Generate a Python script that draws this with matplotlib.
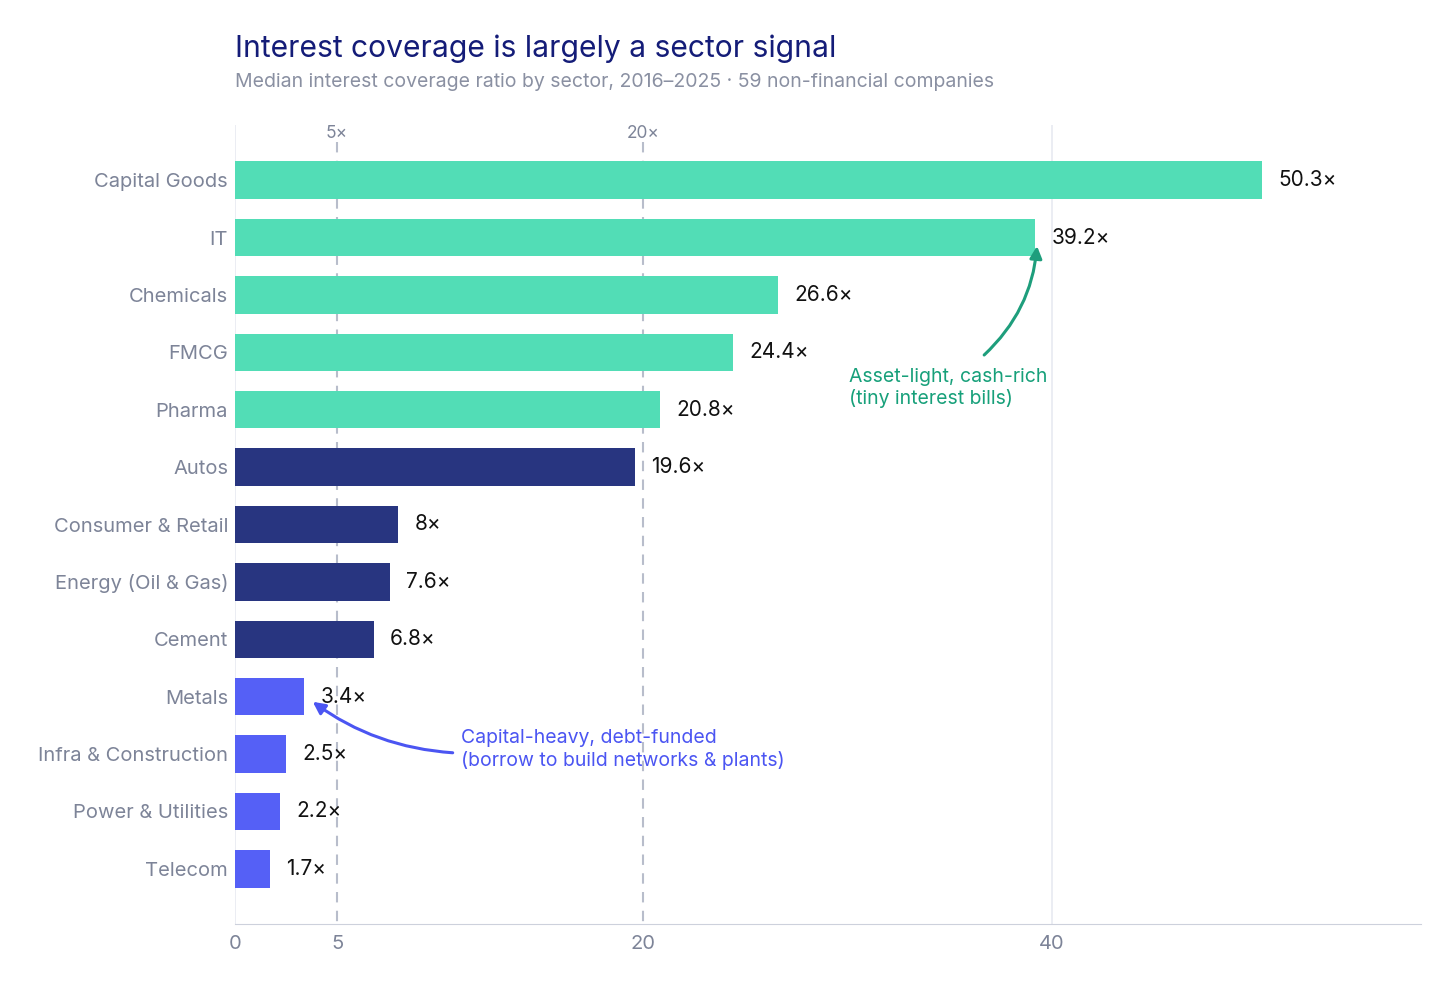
import matplotlib
matplotlib.use('Agg')
from matplotlib import pyplot as plt

# Data
SECTORS = ['Capital Goods', 'IT', 'Chemicals', 'FMCG', 'Pharma', 'Autos',
           'Consumer & Retail', 'Energy (Oil & Gas)', 'Cement', 'Metals',
           'Infra & Construction', 'Power & Utilities', 'Telecom']
COVERAGE = [50.3, 39.2, 26.6, 24.4, 20.8, 19.6, 8, 7.6, 6.8, 3.4, 2.5, 2.2, 1.7]
GROUPS = ['light'] * 5 + ['mid'] * 4 + ['heavy'] * 4
X_TICKS = [0, 5, 20, 40]
REF_LINES = [5, 20]

# Styles
GROUP_COLORS = {'light': '#52DDB6', 'mid': '#283580', 'heavy': '#5560F6'}
TITLE_COLOR = '#141C78'
GREY = '#7D8498'
GREEN_TXT = '#17A07A'
BLUE_TXT = '#4B55F2'

plt.rcParams['font.family'] = ['Inter', 'DejaVu Sans']

fig = plt.figure(figsize=(14.56, 9.88), dpi=100)
ax = fig.add_axes([235 / 1456, 1 - 924 / 988, (1421 - 235) / 1456,
                   (924 - 125) / 988])

ypos = list(range(len(SECTORS)))
colors = [GROUP_COLORS[g] for g in GROUPS]
ax.barh(ypos, COVERAGE, height=0.65, color=colors, zorder=3)

for y, v in zip(ypos, COVERAGE):
    ax.text(v + 0.8, y, '{:g}\u00d7'.format(v), va='center', ha='left',
            fontsize=15, color='#111111', zorder=4)

ax.set_xlim(0, 58.1)
ax.set_ylim(len(SECTORS) - 1 + 0.96, -0.96)
ax.set_yticks(ypos)
ax.set_yticklabels(SECTORS)
ax.set_xticks(X_TICKS)
ax.tick_params(axis='both', length=0, labelsize=14.5, labelcolor=GREY)
ax.tick_params(axis='y', pad=5)
ax.tick_params(axis='x', pad=8)

for side in ['top', 'right', 'left']:
    ax.spines[side].set_visible(False)
ax.spines['bottom'].set_color('#CDD1DC')

# light grid at 0 and 40
for gx in [0, 40]:
    ax.axvline(gx, color='#E8EAF1', lw=1.2, zorder=1)

# dashed reference lines with labels on top
for rx in REF_LINES:
    ax.vlines(rx, -0.66, len(SECTORS) - 1 + 0.96, color='#B8BDCB', lw=1.5,
              linestyles=(0, (5, 4)), zorder=2)
    ax.text(rx, -0.82, '{}\u00d7'.format(rx), ha='center', va='center',
            fontsize=12.5, color=GREY)

# annotations
ax.annotate('Asset-light, cash-rich\n(tiny interest bills)',
            xy=(39.3, 1.1), xytext=(30.1, 3.62), fontsize=14, color=GREEN_TXT,
            ha='left', va='center', linespacing=1.25)
ax.annotate('', xy=(39.3, 1.1), xytext=(36.6, 3.08),
            arrowprops=dict(arrowstyle='-|>', color='#1E9E7C', lw=2.2,
                            mutation_scale=18,
                            connectionstyle='arc3,rad=0.2'))
ax.annotate('Capital-heavy, debt-funded\n(borrow to build networks & plants)',
            xy=(3.7, 9.06), xytext=(11.05, 9.92), fontsize=14, color=BLUE_TXT,
            ha='left', va='center', linespacing=1.25)
ax.annotate('', xy=(3.7, 9.06), xytext=(10.8, 9.98),
            arrowprops=dict(arrowstyle='-|>', color=BLUE_TXT, lw=2.2,
                            mutation_scale=18,
                            connectionstyle='arc3,rad=-0.15'))

fig.text(235 / 1456, 1 - 49 / 988, 'Interest coverage is largely a sector signal',
         fontsize=21.6, color=TITLE_COLOR, ha='left', va='center')
fig.text(235 / 1456, 1 - 82 / 988,
         'Median interest coverage ratio by sector, 2016\u20132025 \u00b7 '
         '59 non-financial companies',
         fontsize=14, color='#8A90A2', ha='left', va='center')

fig.savefig('out.png', dpi=100)
